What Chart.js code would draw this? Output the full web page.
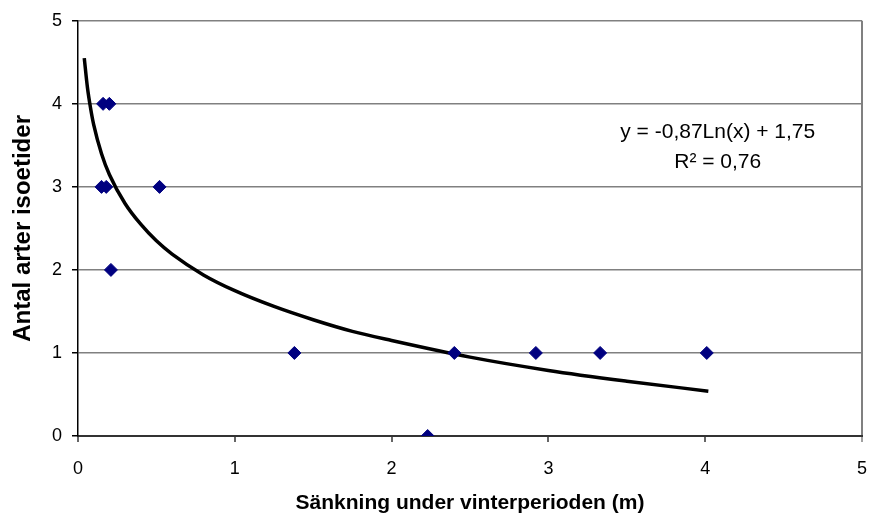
<!DOCTYPE html>
<html>
<head>
<meta charset="utf-8">
<script src="https://cdn.jsdelivr.net/npm/chart.js@4"></script>
<style>
  html, body { margin: 0; padding: 0; background: #fff; }
  #wrap { width: 870px; height: 522px; }
</style>
</head>
<body>
<div id="wrap"><canvas id="chart" width="870" height="522"></canvas></div>
<script>
// measured points (depth lowering in m, number of isoetid species)
const depthX = [0.16, 0.20, 0.15, 0.18, 0.52, 0.21, 1.38, 2.23, 2.40, 2.92, 3.33, 4.01];
const speciesY = [4, 4, 3, 3, 3, 2, 1, 0, 1, 1, 1, 1];

// trend curve
const trendX = [0.04, 0.06, 0.08, 0.10, 0.15, 0.20, 0.30, 0.40, 0.50, 0.60, 0.80, 1.00, 1.25, 1.50, 1.75, 2.00, 2.50, 3.00, 3.50, 4.02];
const trendY = [4.55, 4.20, 3.95, 3.75, 3.40, 3.15, 2.80, 2.55, 2.35, 2.19, 1.94, 1.75, 1.56, 1.40, 1.26, 1.15, 0.95, 0.79, 0.66, 0.54];

const xTickLabels = ['0', '1', '2', '3', '4', '5'];
const yTickLabels = ['0', '1', '2', '3', '4', '5'];

const eqLines = ['y = -0,87Ln(x) + 1,75', 'R² = 0,76'];

const FONT = 'Liberation Sans, Arial, sans-serif';

const pts = depthX.map((x, i) => ({ x: x, y: speciesY[i] }));
const curve = trendX.map((x, i) => ({ x: x, y: trendY[i] }));

// trendline label, drawn at a spot inside the plot
const eqLabel = {
  id: 'eqLabel',
  afterDatasetsDraw(chart) {
    const ctx = chart.ctx;
    const xs = chart.scales.x, ys = chart.scales.y;
    const cx = xs.getPixelForValue(4.08);
    ctx.save();
    ctx.fillStyle = '#000';
    ctx.font = '21px ' + FONT;
    ctx.textAlign = 'center';
    ctx.textBaseline = 'alphabetic';
    ctx.fillText(eqLines[0], cx, ys.getPixelForValue(3.59));
    ctx.fillText(eqLines[1], cx, ys.getPixelForValue(3.23));
    ctx.restore();
  }
};

new Chart(document.getElementById('chart'), {
  type: 'scatter',
  data: {
    datasets: [
      {
        label: 'Antal arter',
        data: pts,
        pointStyle: 'rectRot',
        pointRadius: 6.5,
        pointHoverRadius: 6.5,
        backgroundColor: '#000080',
        borderColor: '#000080',
        borderWidth: 1
      },
      {
        label: 'Trend',
        data: curve,
        showLine: true,
        pointRadius: 0,
        borderColor: '#000',
        borderWidth: 3.5,
        cubicInterpolationMode: 'monotone',
        fill: false
      }
    ]
  },
  options: {
    responsive: false,
    animation: false,
    layout: { padding: { top: 20, right: 8, left: 0, bottom: 0 } },
    plugins: {
      legend: { display: false },
      tooltip: { enabled: false }
    },
    scales: {
      x: {
        type: 'linear',
        min: 0,
        max: 5,
        afterFit: (s) => { s.height = 86; s.paddingRight = 0; s.paddingLeft = 0; },
        ticks: {
          stepSize: 1,
          padding: 16,
          color: '#000',
          font: { family: FONT, size: 18 },
          callback: (v) => xTickLabels[v]
        },
        grid: {
          color: (c) => c.tick && c.tick.value === 5 ? '#808080' : 'rgba(0,0,0,0)',
          lineWidth: 2,
          tickLength: 6,
          tickColor: (c) => c.tick && c.tick.value === 5 ? '#808080' : '#333',
          tickWidth: 1.5
        },
        border: { color: '#333', width: 2 },
        title: {
          display: true,
          text: 'Sänkning under vinterperioden (m)',
          color: '#000',
          font: { family: FONT, size: 21, weight: 'bold' },
          padding: { top: 0, bottom: 6 }
        }
      },
      y: {
        type: 'linear',
        min: 0,
        max: 5,
        afterFit: (s) => { s.width = 78; },
        ticks: {
          stepSize: 1,
          padding: 10,
          color: '#000',
          font: { family: FONT, size: 18 },
          callback: (v) => yTickLabels[v]
        },
        grid: {
          color: (c) => c.tick && c.tick.value === 0 ? 'rgba(0,0,0,0)' : '#808080',
          lineWidth: 1.5,
          tickLength: 6,
          tickColor: '#000',
          tickWidth: 1.5
        },
        border: { color: '#000', width: 1.5 },
        title: {
          display: true,
          text: 'Antal arter isoetider',
          color: '#000',
          font: { family: FONT, size: 24, weight: 'bold' },
          padding: { top: 9, bottom: 0 }
        }
      }
    }
  },
  plugins: [eqLabel]
});
</script>
</body>
</html>
